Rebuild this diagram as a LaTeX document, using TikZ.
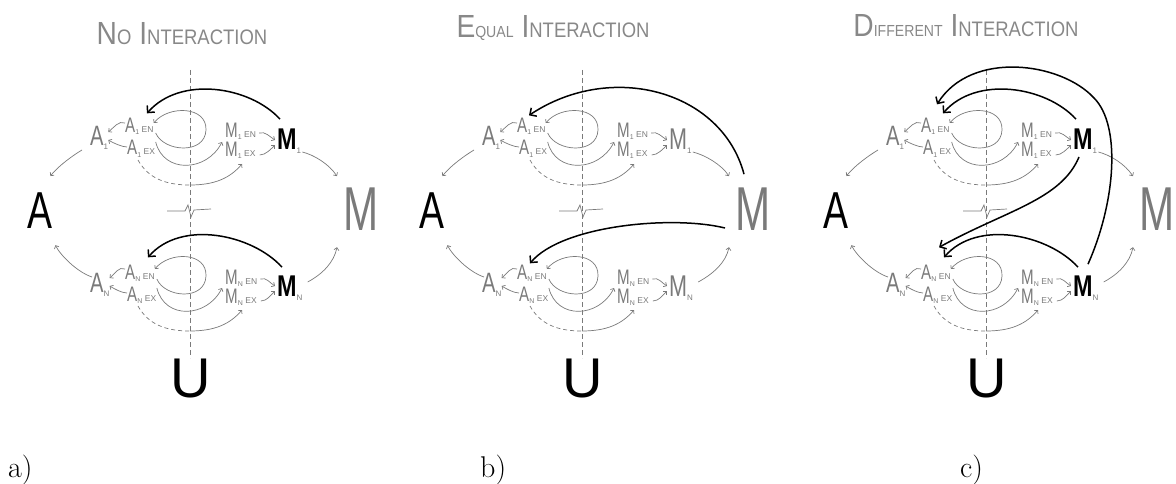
\documentclass[tikz,border=0pt]{standalone}
\usepackage{fontspec}
\newfontfamily\hand{Liberation Sans}
\usetikzlibrary{arrows.meta}
\definecolor{pg}{HTML}{7A7A7A}
\definecolor{tg}{HTML}{888888}

\newcommand\subs[1]{\raisebox{-2pt}{\fontsize{7}{7}\selectfont #1}}
\newcommand\subb[1]{\raisebox{-4pt}{\fontsize{8}{8}\selectfont #1}}
\newcommand\lbl[3]{\scalebox{0.72}[1]{\fontsize{21}{21}\selectfont #1}\subs{#2}\hspace{2.5pt}{\fontsize{8.5}{8.5}\selectfont #3}}
\newcommand\Mbold[1]{\textcolor{black}{\scalebox{0.78}[1]{\fontsize{30}{30}\selectfont\bfseries M}}\subb{#1}}
\newcommand\Mlight[1]{\scalebox{0.72}[1]{\fontsize{30}{30}\selectfont M}\subb{#1}}
\newcommand\BC[1]{{\fontsize{32}{32}\selectfont #1}}
\newcommand\SC[2][21]{{\fontsize{#1}{#1}\selectfont #2}}
\newcommand\gap{\hspace{9pt}}

% one group (upper: tag 1, lower: tag N)
\newcommand\grp[4]{%
 \node[lab] (a#1) at (90,146+#2) {\scalebox{0.72}[1]{\fontsize{28}{28}\selectfont A}\subb{#3}};
 \node[lab] (a#1en) at (125,133+#2) {\lbl{A}{#3}{EN}};
 \node[lab] (a#1ex) at (127,155+#2) {\lbl{A}{#3}{EX}};
 \node[lab] (m#1en) at (225,138+#2) {\lbl{M}{#3}{EN}};
 \node[lab] (m#1ex) at (225,157+#2) {\lbl{M}{#3}{EX}};
 \node[lab] (m#1) at (277,150+#2) {#4{#3}};
 \coordinate (mid#1) at (190,185+#2);
 \draw[garrow] ([shift={(0,-10)}]a#1en.base west) .. controls +(-6,-3) and +(5,-4) .. ([shift={(0,-14)}]a#1.base east);
 \draw[garrow] ([shift={(0,-8)}]a#1ex.base west) .. controls +(-5,0) and +(5,3) .. ([shift={(0,-6)}]a#1.base east);
 \draw[garrow] ([shift={(2,0)}]a#1en.base east) .. controls +(8,19) and (205,155+#2) .. (206,130+#2) .. controls (207,106+#2) and +(15,-18) .. ([shift={(0,-10)}]a#1en.base east);
 \draw[garrow] ([shift={(2,9)}]a#1en.base east) .. controls +(8,32) and +(-15,30) .. ([shift={(-3,4)}]m#1en.base west);
 \draw[gdash] ([shift={(11,5)}]a#1ex.base west) .. controls +(10,18) and +(-25,0) .. (mid#1);
 \draw[garrow] (mid#1) .. controls +(25,0) and +(-12,14) .. ([shift={(17,7)}]m#1ex.base west);
 \draw[garrow] ([shift={(3,-5)}]m#1en.base east) .. controls +(6,-2) and +(-5,-3) .. ([shift={(-2,-10)}]m#1.base west);
 \draw[garrow] ([shift={(4,-2)}]m#1ex.base east) .. controls +(6,0) and +(-4,4) .. ([shift={(-2,-5)}]m#1.base west);
}

% one panel
\newcommand\panel[7]{%
\begin{scope}[shift={(#2,0)}, name prefix=#1-]
 \node[inner sep=0pt, anchor=base, text=tg, font=\hand] (title) at (#4,#5) {\scalebox{0.88}[1]{#3}};
 \draw[axis] (190,70) -- (190,358);
 \draw[gline] (167,211) -- (185,211) -- (188,205) -- (191,217) -- (194,210) -- (211,209);
 \node[inner sep=0pt, anchor=base west, font=\hand] (A) at (27,228) {\scalebox{0.72}[1]{\fontsize{52}{52}\selectfont A}};
 \node[inner sep=0pt, anchor=base west, text=pg, font=\hand] (M) at (343,230) {\scalebox{0.68}[1]{\fontsize{62}{62}\selectfont M}};
 \node[inner sep=0pt, anchor=base, font=\hand] (U) at (191,397) {\fontsize{56}{56}\selectfont U};
 \grp{1}{0}{1}{#6}
 \grp{N}{146}{N}{#6}
 \draw[garrow] ([shift={(-8,4)}]a1.base west) .. controls +(-10,6) and +(8,-10) .. ([shift={(-2,-16)}]A.north east);
 \draw[garrow] ([shift={(2,-15)}]aN.base west) .. controls +(-15,-5) and +(5,10) .. ([shift={(3,17)}]A.south east);
 \draw[garrow] ([shift={(1,2)}]m1.base east) .. controls +(12,3) and +(-8,-12) .. ([shift={(-6,-11)}]M.north west);
 \draw[garrow] ([shift={(5,-14)}]mN.base east) .. controls +(15,-8) and +(-3,15) .. ([shift={(-6,17)}]M.south west);
 #7
\end{scope}}

\begin{document}
\begin{tikzpicture}[x=1pt,y=-1pt,
  lab/.style={inner sep=0pt, anchor=base west, text=pg, font=\hand},
  garrow/.style={draw=pg, line width=0.7pt, -{Straight Barb[length=2.5pt,width=5pt]}},
  gline/.style={draw=pg, line width=0.7pt},
  gdash/.style={draw=pg, line width=0.7pt, dash pattern=on 4pt off 3pt},
  axis/.style={draw=pg, line width=0.6pt, dash pattern=on 5pt off 3pt},
  barrow/.style={draw=black, line width=1.5pt, -{Straight Barb[length=5pt,width=10pt]}}]
\useasboundingbox (0,0) rectangle (1176,484);

% a) no interaction
\panel{pa}{0}{\BC{N}\SC{O}\gap\BC{I}\SC{NTERACTION}}{182}{45}{\Mbold}{%
 \draw[barrow] ([shift={(3,-10)}]m1.north west) .. controls +(-30,-33) and +(33,-38) .. ([shift={(22,-5)}]a1en.north west);
 \draw[barrow] ([shift={(5,-8)}]mN.north west) .. controls +(-30,-33) and +(33,-38) .. ([shift={(23,-7)}]aNen.north west);
}

% b) equal interaction
\panel{pb}{392}{\BC{E}\SC[16]{QUAL}\gap\BC{I}\SC{NTERACTION}}{161}{38}{\Mlight}{%
 \draw[barrow] ([shift={(9,-13)}]M.north west) .. controls +(-22,-83) and +(83,-55) .. ([shift={(12,-3)}]a1en.north west);
 \draw[barrow] ([shift={(-10,-2)}]M.base west) .. controls +(-53,-13) and +(32,-38) .. ([shift={(13,-1)}]aNen.north west);
}

% c) different interaction
\panel{pc}{796}{\BC{D}\SC[16]{IFFERENT}\gap\BC{I}\SC{NTERACTION}}{170}{37}{\Mbold}{%
 \draw[barrow] ([shift={(3,-10)}]m1.north west) .. controls +(-30,-33) and +(33,-38) .. ([shift={(22,-5)}]a1en.north west);
 \draw[barrow] ([shift={(15,-11)}]mN.north west) .. controls +(28,-63) and (325,125) .. (298,98) .. controls (265,62) and (175,50) .. ([shift={(16,-14)}]a1en.north west);
 \draw[barrow] ([shift={(6,7)}]m1.base west) .. controls +(-18,43) and +(67,-37) .. ([shift={(18,-17)}]aNen.north west);
 \draw[barrow] ([shift={(5,-8)}]mN.north west) .. controls +(-30,-33) and +(33,-38) .. ([shift={(23,-7)}]aNen.north west);
}

\node[anchor=base west, inner sep=0pt] (la) at (8,477) {\fontsize{30}{30}\selectfont a)};
\node[anchor=base west, inner sep=0pt] (lb) at (480,477) {\fontsize{30}{30}\selectfont b)};
\node[anchor=base west, inner sep=0pt] (lc) at (960,477) {\fontsize{30}{30}\selectfont c)};
\end{tikzpicture}
\end{document}
